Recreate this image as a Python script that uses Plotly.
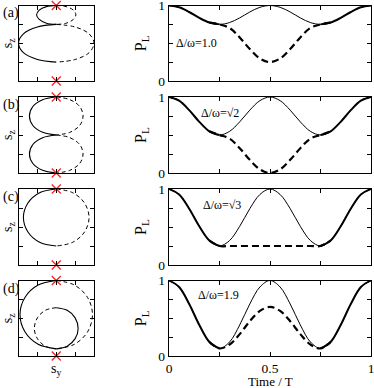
import plotly.graph_objects as go

# ---------------- data ----------------
time_t = [0.00, 0.05, 0.10, 0.15, 0.20, 0.25, 0.30, 0.35, 0.40, 0.45, 0.50,
          0.55, 0.60, 0.65, 0.70, 0.75, 0.80, 0.85, 0.90, 0.95, 1.00]

pl_solid_a = [1.000, 0.976, 0.914, 0.836, 0.774, 0.750, 0.774, 0.836, 0.914, 0.976, 1.000,
              0.976, 0.914, 0.836, 0.774, 0.750, 0.774, 0.836, 0.914, 0.976, 1.000]
pl_dash_a = [1.000, 0.976, 0.914, 0.836, 0.774, 0.750, 0.702, 0.577, 0.423, 0.298, 0.250,
             0.298, 0.423, 0.577, 0.702, 0.750, 0.774, 0.836, 0.914, 0.976, 1.000]
pl_solid_b = [1.000, 0.952, 0.827, 0.673, 0.548, 0.500, 0.548, 0.673, 0.827, 0.952, 1.000,
              0.952, 0.827, 0.673, 0.548, 0.500, 0.548, 0.673, 0.827, 0.952, 1.000]
pl_dash_b = [1.000, 0.952, 0.827, 0.673, 0.548, 0.500, 0.452, 0.327, 0.173, 0.048, 0.000,
             0.048, 0.173, 0.327, 0.452, 0.500, 0.548, 0.673, 0.827, 0.952, 1.000]
pl_solid_c = [1.000, 0.928, 0.741, 0.509, 0.322, 0.250, 0.322, 0.509, 0.741, 0.928, 1.000,
              0.928, 0.741, 0.509, 0.322, 0.250, 0.322, 0.509, 0.741, 0.928, 1.000]
pl_dash_c = [1.000, 0.928, 0.741, 0.509, 0.322, 0.250, 0.250, 0.250, 0.250, 0.250, 0.250,
             0.250, 0.250, 0.250, 0.250, 0.250, 0.322, 0.509, 0.741, 0.928, 1.000]
pl_solid_d = [1.000, 0.914, 0.689, 0.411, 0.186, 0.100, 0.186, 0.411, 0.689, 0.914, 1.000,
              0.914, 0.689, 0.411, 0.186, 0.100, 0.186, 0.411, 0.689, 0.914, 1.000]
pl_dash_d = [1.000, 0.914, 0.689, 0.411, 0.186, 0.100, 0.152, 0.290, 0.460, 0.597, 0.650,
             0.597, 0.460, 0.290, 0.152, 0.100, 0.186, 0.411, 0.689, 0.914, 1.000]

# Bloch-vector trajectories (s_y, s_z)
sy_a_solid = [0, -0.26, -0.45, -0.52, -0.45, -0.26, 0, None, 0, -0.50, -0.87, -1.00, -0.87, -0.50, 0]
sz_a_solid = [1, 0.97, 0.88, 0.75, 0.63, 0.53, 0.50, None, 0.50, 0.43, 0.25, 0.00, -0.25, -0.43, -0.50]
sy_a_dash = [0, 0.26, 0.45, 0.52, 0.45, 0.26, 0, None, 0, 0.50, 0.87, 1.00, 0.87, 0.50, 0]
sz_a_dash = [1, 0.97, 0.88, 0.75, 0.63, 0.53, 0.50, None, 0.50, 0.43, 0.25, 0.00, -0.25, -0.43, -0.50]

sy_b_solid = [0, -0.36, -0.62, -0.71, -0.62, -0.36, 0, None, 0, -0.36, -0.62, -0.71, -0.62, -0.36, 0]
sz_b_solid = [1, 0.93, 0.75, 0.50, 0.25, 0.07, 0, None, 0, -0.07, -0.25, -0.50, -0.75, -0.93, -1]
sy_b_dash = [0, 0.36, 0.62, 0.71, 0.62, 0.36, 0, None, 0, 0.36, 0.62, 0.71, 0.62, 0.36, 0]
sz_b_dash = [1, 0.93, 0.75, 0.50, 0.25, 0.07, 0, None, 0, -0.07, -0.25, -0.50, -0.75, -0.93, -1]

sy_c_solid = [0, -0.44, -0.75, -0.87, -0.75, -0.44, 0]
sz_c_solid = [1, 0.90, 0.63, 0.25, -0.13, -0.40, -0.50]
sy_c_dash = [0, 0.44, 0.75, 0.87, 0.75, 0.44, 0]
sz_c_dash = [1, 0.90, 0.63, 0.25, -0.13, -0.40, -0.50]

sy_d_solid = [0, -0.48, -0.83, -0.96, -0.83, -0.48, 0, None, 0, 0.29, 0.50, 0.58, 0.50, 0.29, 0]
sz_d_solid = [1, 0.88, 0.55, 0.10, -0.36, -0.69, -0.81, None, 0.28, 0.21, 0.01, -0.27, -0.54, -0.74, -0.81]
sy_d_dash = [0, 0.48, 0.83, 0.96, 0.83, 0.48, 0, None, 0, -0.29, -0.50, -0.58, -0.50, -0.29, 0]
sz_d_dash = [1, 0.88, 0.55, 0.10, -0.36, -0.69, -0.81, None, 0.28, 0.21, 0.01, -0.27, -0.54, -0.74, -0.81]

sy_marks = [0, 0]
sz_marks = [1, -1]

panel_labels = ["(a)", "(b)", "(c)", "(d)"]
ratio_labels = ["Δ/ω=1.0", "Δ/ω=√2", "Δ/ω=√3", "Δ/ω=1.9"]
ratio_pos_t = [0.025, 0.15, 0.16, 0.135]
ratio_pos_p = [0.50, 0.79, 0.79, 0.81]

x_tick_vals = [0, 0.25, 0.5, 0.75, 1]
x_tick_text = ["0", "", "0.5", "", "1"]
y_tick_vals = [0, 0.25, 0.5, 0.75, 1]
y_tick_text = ["0", "", "", "", "1"]
s_tick_vals = [-0.5, 0, 0.5]

# ---------------- figure ----------------
FONT = "Liberation Serif, Times New Roman, DejaVu Serif, serif"
W, H = 374, 388
left_dom = [18.5 / W, 94 / W]
right_dom = [169 / W, 371 / W]
rows_px = [(5.5, 81), (97, 173), (189, 265), (280.5, 356)]

pl_solid = [pl_solid_a, pl_solid_b, pl_solid_c, pl_solid_d]
pl_dash = [pl_dash_a, pl_dash_b, pl_dash_c, pl_dash_d]
traj = [
    (sy_a_solid, sz_a_solid, sy_a_dash, sz_a_dash),
    (sy_b_solid, sz_b_solid, sy_b_dash, sz_b_dash),
    (sy_c_solid, sz_c_solid, sy_c_dash, sz_c_dash),
    (sy_d_solid, sz_d_solid, sy_d_dash, sz_d_dash),
]
# index ranges of the dashed series: shared start, diverging middle, shared end
i_split1, i_split2 = 5, 15

fig = go.Figure()
layout = dict(
    width=W, height=H, margin=dict(l=0, r=0, t=0, b=0, autoexpand=False),
    paper_bgcolor="white", plot_bgcolor="white", showlegend=False,
    font=dict(family=FONT, size=13, color="black"),
)
annotations = []

for i in range(4):
    top, bot = rows_px[i]
    ydom = [1 - bot / H, 1 - top / H]
    lx, ly = 2 * i + 1, 2 * i + 1
    rx, ry = 2 * i + 2, 2 * i + 2
    lxn = "x" if lx == 1 else f"x{lx}"
    lyn = "y" if ly == 1 else f"y{ly}"
    rxn, ryn = f"x{rx}", f"y{ry}"

    sys_, szs_, syd_, szd_ = traj[i]
    fig.add_trace(go.Scatter(x=syd_, y=szd_, mode="lines", xaxis=lxn, yaxis=lyn,
                             line=dict(color="black", width=1, dash="4px,3px", shape="spline"),
                             hoverinfo="skip"))
    fig.add_trace(go.Scatter(x=sys_, y=szs_, mode="lines", xaxis=lxn, yaxis=lyn,
                             line=dict(color="black", width=1.1, shape="spline"),
                             hoverinfo="skip"))
    fig.add_trace(go.Scatter(x=sy_marks, y=sz_marks, mode="markers", xaxis=lxn, yaxis=lyn,
                             marker=dict(symbol="x-thin", size=9, line=dict(color="#ff2020", width=1.3)),
                             cliponaxis=False, hoverinfo="skip"))

    fig.add_trace(go.Scatter(x=time_t, y=pl_solid[i], mode="lines", xaxis=rxn, yaxis=ryn,
                             line=dict(color="black", width=1, shape="spline"), hoverinfo="skip"))
    d = pl_dash[i]
    # shared parts (where both curves coincide) look like one thick line
    fig.add_trace(go.Scatter(x=time_t[:i_split1 + 1] + [None] + time_t[i_split2:],
                             y=d[:i_split1 + 1] + [None] + d[i_split2:],
                             mode="lines", xaxis=rxn, yaxis=ryn,
                             line=dict(color="black", width=2.0, shape="spline"), hoverinfo="skip"))
    fig.add_trace(go.Scatter(x=time_t[i_split1 - 1:i_split2 + 2], y=d[i_split1 - 1:i_split2 + 2],
                             mode="lines", xaxis=rxn, yaxis=ryn,
                             line=dict(color="black", width=2.2, dash="7px,4px", shape="spline"),
                             hoverinfo="skip"))

    common = dict(showline=True, linecolor="black", linewidth=1.4, mirror="allticks",
                  ticks="inside", ticklen=4, tickwidth=1, tickcolor="black",
                  showgrid=False, zeroline=False, fixedrange=True, automargin=False)
    layout["xaxis" if lx == 1 else f"xaxis{lx}"] = dict(
        domain=left_dom, range=[-1, 1], tickvals=s_tick_vals, showticklabels=False,
        anchor=lyn, **common)
    layout["yaxis" if ly == 1 else f"yaxis{ly}"] = dict(
        domain=ydom, range=[-1, 1], tickvals=s_tick_vals, showticklabels=False,
        anchor=lxn, **common)
    layout[f"xaxis{rx}"] = dict(
        domain=right_dom, range=[0, 1], tickvals=x_tick_vals, ticktext=x_tick_text,
        showticklabels=(i == 3), anchor=ryn, tickfont=dict(size=13.5),
        ticklabelstandoff=0, ticklabeloverflow="allow", **common)
    layout[f"yaxis{ry}"] = dict(
        domain=ydom, range=[0, 1], tickvals=y_tick_vals, ticktext=y_tick_text,
        showticklabels=True, anchor=rxn, tickfont=dict(size=13.5),
        ticklabeloverflow="allow", **common)

    ymid = 1 - (top + bot) / 2 / H
    annotations.append(dict(text=panel_labels[i], xref="paper", yref="paper",
                            x=1 / W, y=1 - (top + 8) / H, xanchor="left", yanchor="middle",
                            showarrow=False, font=dict(size=14)))
    annotations.append(dict(text="s<sub>z</sub>", xref="paper", yref="paper",
                            x=8 / W, y=ymid, textangle=-90, xanchor="center", yanchor="middle",
                            showarrow=False, font=dict(size=14)))
    annotations.append(dict(text="P<sub>L</sub>", xref="paper", yref="paper",
                            x=141 / W, y=ymid, textangle=-90, xanchor="center", yanchor="middle",
                            showarrow=False, font=dict(size=16)))
    annotations.append(dict(text=ratio_labels[i], xref=rxn, yref=ryn,
                            x=ratio_pos_t[i], y=ratio_pos_p[i], xanchor="left", yanchor="middle",
                            showarrow=False, font=dict(size=12)))

annotations.append(dict(text="s<sub>y</sub>", xref="paper", yref="paper",
                        x=56 / W, y=1 - 369 / H, xanchor="center", yanchor="middle",
                        showarrow=False, font=dict(size=14)))
annotations.append(dict(text="Time / T", xref="paper", yref="paper",
                        x=270 / W, y=1 - 381 / H, xanchor="center", yanchor="middle",
                        showarrow=False, font=dict(size=13)))

layout["annotations"] = annotations
fig.update_layout(**layout)
fig.write_html(
    "out.html", config={"displayModeBar": False},
    post_script=(
        "var st=document.createElement('style');"
        "st.textContent='html,body{margin:0!important;padding:0!important;overflow:hidden!important;}';"
        "document.head.appendChild(st);window.scrollTo(0,0);"))
